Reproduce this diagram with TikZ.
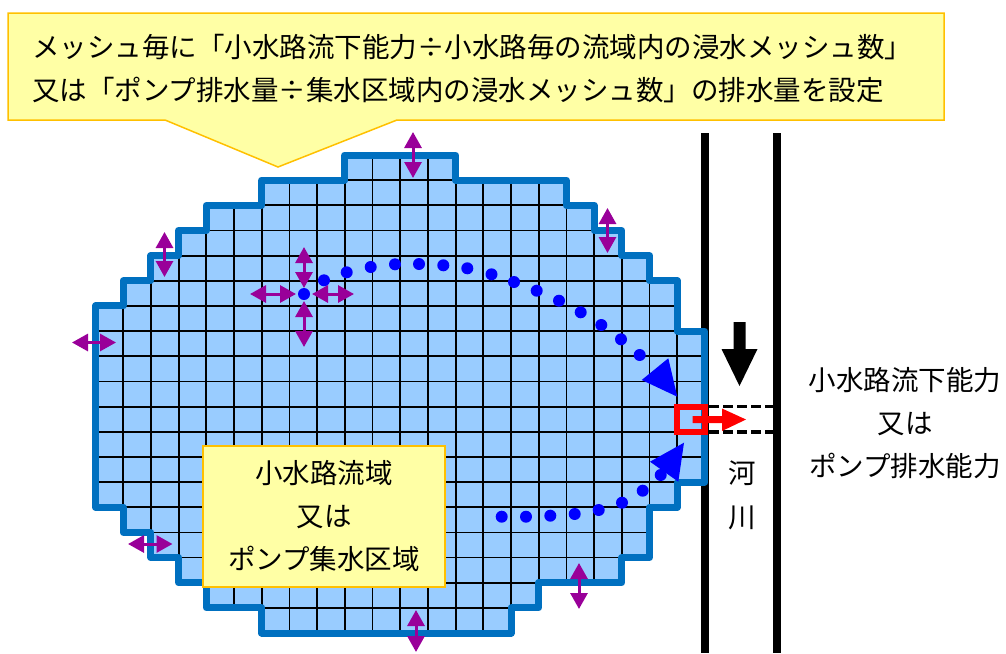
\documentclass[tikz,border=0pt]{standalone}
\usepackage{fontspec}
\newfontfamily\jpfont{Noto Sans CJK JP}
\usetikzlibrary{arrows.meta}
\definecolor{cellblue}{HTML}{99CCFF}
\definecolor{edgeblue}{HTML}{0070C0}
\definecolor{noteyellow}{HTML}{FFFFA5}
\definecolor{noteedge}{HTML}{FFC000}
\definecolor{flowpurple}{HTML}{990099}
\definecolor{dotblue}{HTML}{0000FF}
\def\dompoly{(0,6) -- (1,6) -- (1,5) -- (2,5) -- (2,4) -- (3,4) -- (3,3) -- (4,3) -- (4,2) -- (6,2) -- (6,1) -- (9,1) -- (9,0) -- (13,0) -- (13,1) -- (17,1) -- (17,2) -- (18,2) -- (18,3) -- (19,3) -- (19,4) -- (20,4) -- (20,5) -- (21,5) -- (21,7) -- (22,7) -- (22,13) -- (21,13) -- (21,14) -- (20,14) -- (20,16) -- (19,16) -- (19,17) -- (16,17) -- (16,18) -- (15,18) -- (15,19) -- (6,19) -- (6,18) -- (4,18) -- (4,17) -- (3,17) -- (3,16) -- (2,16) -- (2,15) -- (1,15) -- (1,14) -- (0,14) -- cycle}
\tikzset{
  jptext/.style={font=\jpfont\fontsize{27.5}{43}\selectfont, inner sep=0pt},
  notebox/.style={fill=noteyellow, draw=noteedge, line width=1.5pt},
  twoway/.style={draw=flowpurple, line width=3pt, {Triangle[length=16pt,width=17pt]}-{Triangle[length=16pt,width=17pt]}},
  flowdot/.style={circle, fill=dotblue, inner sep=0pt, minimum size=12pt},
  flowhead/.style={fill=dotblue},
  riverline/.style={line width=8pt, black},
  gateline/.style={line width=3.4pt, black, dash pattern=on 10pt off 4pt},
}
\begin{document}
\begin{tikzpicture}[x=1pt,y=-1pt]
\useasboundingbox (0,0) rectangle (1006,653);
% river
\coordinate (rl1) at (705,133); \coordinate (rl2) at (705,653);
\coordinate (rr1) at (777,133); \coordinate (rr2) at (777,653);
\draw[riverline] (rl1) -- (rl2);
\draw[riverline] (rr1) -- (rr2);
% domain
\begin{scope}[shift={(95.5,155)}, x=27.7pt, y=-25.16pt]
  \fill[cellblue] \dompoly;
  \begin{scope}
    \clip \dompoly;
    \foreach \c in {1,...,21} \draw[line width=1.8pt] (\c,0) -- (\c,19);
    \foreach \r in {1,...,18} \draw[line width=1.8pt] (0,\r) -- (22,\r);
  \end{scope}
  \draw[edgeblue, line width=7pt, line join=round] \dompoly;
  \node[draw=red, line width=6pt, minimum width=27.7pt, minimum height=25.16pt, inner sep=0pt] (outlet) at (21.5,10.5) {};
\end{scope}
% gate dashed lines
\coordinate (g1a) at (709,406.6); \coordinate (g1b) at (773,406.6);
\coordinate (g2a) at (709,431.8); \coordinate (g2b) at (773,431.8);
\draw[gateline] (g1a) -- (g1b);
\draw[gateline] (g2a) -- (g2b);
% red outflow arrow
\fill[red] (692.5,416) -- (722,416) -- (722,408.5) -- (746,419.5) -- (722,431) -- (722,423) -- (692.5,423) -- cycle;
% black inflow arrow
\fill[black] (733.5,322) -- (745.5,322) -- (745.5,349) -- (757.5,349) -- (739.5,386) -- (721.5,349) -- (733.5,349) -- cycle;
% callout
\draw[notebox, line join=miter] (8,13) -- (944,13) -- (944,120) -- (397,120) -- (278,167) -- (165,120) -- (8,120) -- cycle;
\node[jptext, anchor=west] (note1) at (32,47) {メッシュ毎に「小水路流下能力÷小水路毎の流域内の浸水メッシュ数」};
\node[jptext, anchor=west] (note2) at (32,90) {又は「ポンプ排水量÷集水区域内の浸水メッシュ数」の排水量を設定};
% flow dots
\foreach \p [count=\i] in {(304,294),(324,280.3),(346.7,272.3),(370.7,267),(395,264.3),(419,264),(443.3,265.3),(467.3,268.3),(491.5,274.3),(514,282),(536.7,290.7),(559,300.7),(580.7,312.3),(601.3,325),(621,339.3),(639.7,355)}
  \node[flowdot] (u\i) at \p {};
\foreach \p [count=\i] in {(501.7,516.7),(526,516.7),(550.3,515.7),(574.7,514),(598.7,510),(622,502.7),(642.7,490.7),(660.7,475)}
  \node[flowdot] (l\i) at \p {};
\fill[flowhead] (641.7,380) -- (668.3,358.3) -- (677.3,396.7) -- cycle;
\fill[flowhead] (650,461.7) -- (684,442.7) -- (678.3,481.7) -- cycle;
% purple two-way arrows
\foreach \xa/\ya/\xb/\yb [count=\i] in {250/294/296/294, 312/294/354/294, 304/247/304/288, 304/301/304/347, 413/132/413/178, 607.5/208/607.5/253, 164.5/232/164.5/277, 72/342.5/116/342.5, 128/544/172.5/544, 416/610/416/652, 579/563/579/609}
{
  \coordinate (pa\i) at (\xa,\ya);
  \coordinate (pb\i) at (\xb,\yb);
  \draw[twoway] (pa\i) -- (pb\i);
}
% basin box
\node[notebox, minimum width=242pt, minimum height=141pt, inner sep=0pt] (basin) at (324,516.5) {};
\node[jptext, align=center] (basinlabel) at (basin.center) {小水路流域\\又は\\ポンプ集水区域};
% labels
\node[jptext, align=center] (caplabel) at (905,423) {小水路流下能力\\又は\\ポンプ排水能力};
\node[jptext] (river1) at (742,473) {河};
\node[jptext] (river2) at (742,518) {川};
\end{tikzpicture}
\end{document}
